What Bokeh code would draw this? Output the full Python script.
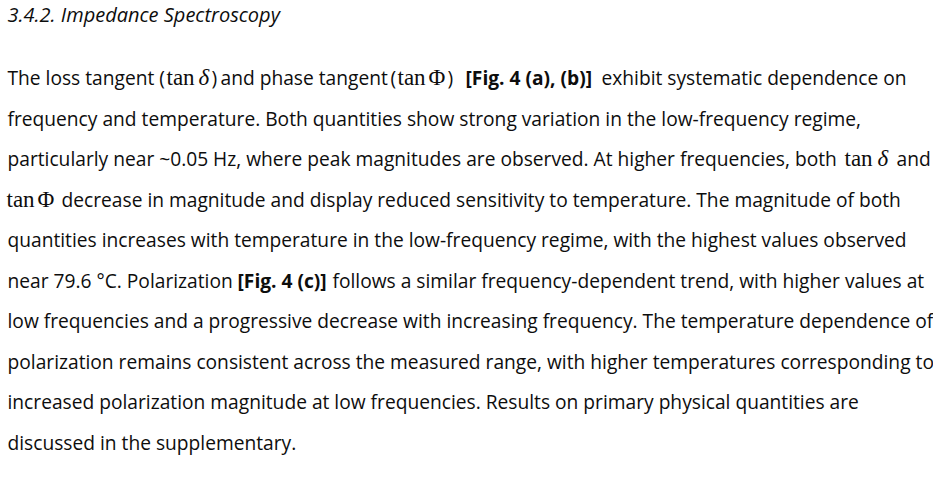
from bokeh.plotting import figure
from bokeh.models import Range1d, ColumnDataSource
from bokeh.core.properties import value
from bokeh.embed import file_html
from bokeh.resources import INLINE

# ---- text content (runs per line) ----
heading = "3.4.2. Impedance Spectroscopy"

line_runs = [
    ["The loss tangent (", "tan", "δ", ")", "and phase tangent", "(", "tan", "Φ", ")",
     "[Fig. 4 (a), (b)]", "exhibit systematic dependence on"],
    ["frequency and temperature. Both quantities show strong variation in the low-frequency regime,"],
    ["particularly near ~0.05 Hz, where peak magnitudes are observed. At higher frequencies, both",
     "tan", "δ", "and"],
    ["tan", "Φ", "decrease in magnitude and display reduced sensitivity to temperature. The magnitude of both"],
    ["quantities increases with temperature in the low-frequency regime, with the highest values observed"],
    ["near 79.6 °C. Polarization", "[Fig. 4 (c)]",
     "follows a similar frequency-dependent trend, with higher values at"],
    ["low frequencies and a progressive decrease with increasing frequency. The temperature dependence of"],
    ["polarization remains consistent across the measured range, with higher temperatures corresponding to"],
    ["increased polarization magnitude at low frequencies. Results on primary physical quantities are"],
    ["discussed in the supplementary."],
]

# ---- layout / style (kept separate from the text) ----
run_kinds = [
    ["body", "math", "mathvar", "body", "body", "body", "math", "math", "body", "bold", "body"],
    ["body"],
    ["body", "math", "mathvar", "body"],
    ["math", "math", "body"],
    ["body"],
    ["body", "bold", "body"],
    ["body"], ["body"], ["body"], ["body"],
]
run_left = [
    [8, 167, 199, 212, 221, 391, 398, 429, 448, 466, 602],
    [8],
    [8, 845, 878, 897],
    [7, 38, 62],
    [8],
    [8, 238, 333],
    [8], [8], [8], [8],
]

styles = {
    "head":    dict(font="Open Sans", style="italic", size="20px"),
    "body":    dict(font="Open Sans", style="normal", size="19.2px"),
    "bold":    dict(font="Open Sans", style="bold", size="19.2px"),
    "math":    dict(font="Liberation Serif", style="normal", size="23px"),
    "mathvar": dict(font="Liberation Serif", style="italic", size="23px"),
}

W, H = 933, 481
X_OFF = 1      # picture x of the figure's left edge
Y_OFF = 8      # picture y of the figure's top edge
HEAD_BASE = 22
FIRST_BASE = 85
LINE_GAP = 40.5

p = figure(width=W, height=H, output_backend="svg", toolbar_location=None,
           x_axis_type=None, y_axis_type=None,
           x_range=Range1d(0, W), y_range=Range1d(H, 0),
           min_border=0, outline_line_color=None,
           background_fill_color="white", border_fill_color="white")
p.grid.visible = False

groups = {k: dict(x=[], y=[], text=[]) for k in styles}
groups["head"]["x"].append(8 - X_OFF)
groups["head"]["y"].append(HEAD_BASE - Y_OFF)
groups["head"]["text"].append(heading)

for i, (runs, kinds, lefts) in enumerate(zip(line_runs, run_kinds, run_left)):
    base = FIRST_BASE + i * LINE_GAP - Y_OFF
    for txt, kind, left in zip(runs, kinds, lefts):
        groups[kind]["x"].append(left - X_OFF)
        groups[kind]["y"].append(base)
        groups[kind]["text"].append(txt)

for kind, d in groups.items():
    if not d["text"]:
        continue
    st = styles[kind]
    p.text(x="x", y="y", text="text", source=ColumnDataSource(d),
           text_font=value(st["font"]), text_font_style=st["style"],
           text_font_size=st["size"], text_color="#0d0d0d",
           text_align="left", text_baseline="alphabetic")

open("out.html", "w").write(file_html(p, INLINE))
